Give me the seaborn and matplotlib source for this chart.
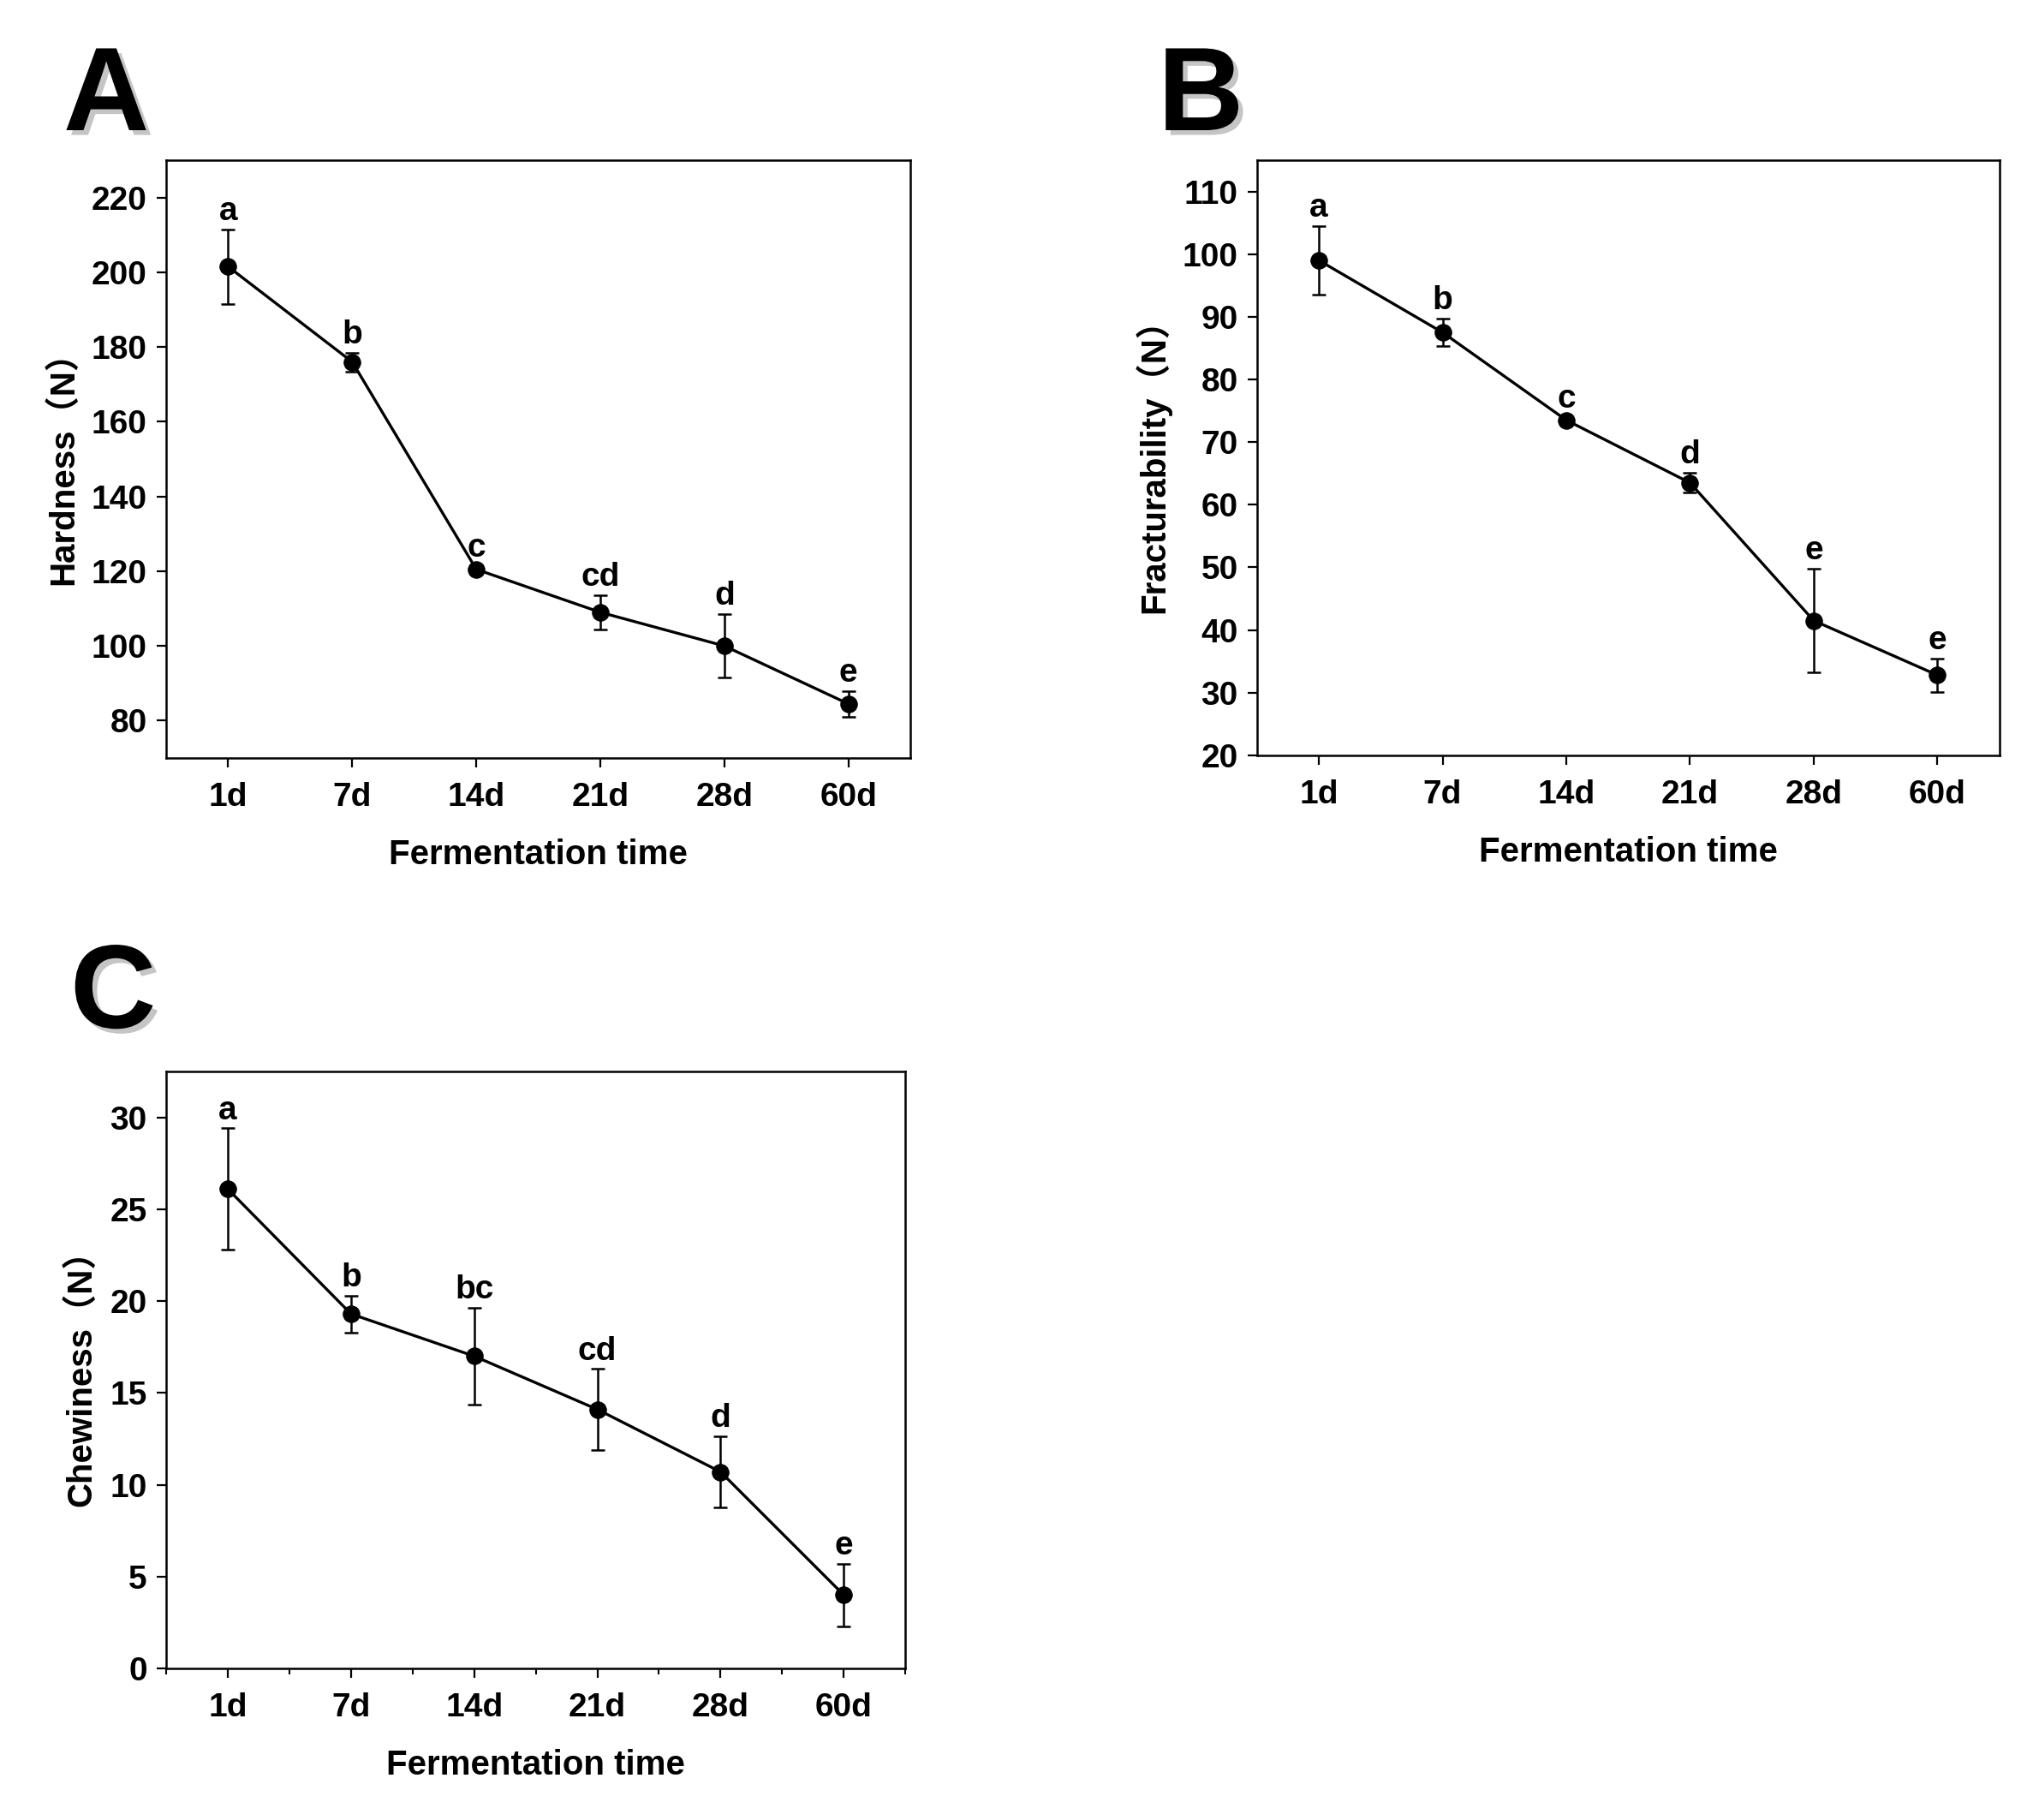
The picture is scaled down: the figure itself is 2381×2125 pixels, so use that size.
import numpy as np
import pandas as pd
import matplotlib
matplotlib.use("Agg")
import matplotlib.pyplot as plt
import matplotlib.patheffects as pe
import seaborn as sns

days = ["1d", "7d", "14d", "21d", "28d", "60d"]

hardness = [201.5, 176.0, 120.5, 109.0, 100.0, 84.5]
hardness_err = [10.0, 2.5, 1.0, 4.5, 8.5, 3.5]
hardness_sig = ["a", "b", "c", "cd", "d", "e"]

fractur = [99.0, 87.5, 73.5, 63.5, 41.5, 32.8]
fractur_err = [5.5, 2.2, 0.5, 1.6, 8.3, 2.7]
fractur_sig = ["a", "b", "c", "d", "e", "e"]

chew = [26.1, 19.3, 17.0, 14.1, 10.7, 4.0]
chew_err = [3.3, 1.0, 2.65, 2.2, 1.95, 1.7]
chew_sig = ["a", "b", "bc", "cd", "d", "e"]

sns.set_theme(style="ticks")
plt.rcParams["font.family"] = ["Liberation Sans", "Noto Sans CJK SC", "DejaVu Sans"]
plt.rcParams["font.weight"] = "bold"
plt.rcParams["axes.labelweight"] = "bold"
plt.rcParams["text.color"] = "black"
plt.rcParams["axes.labelcolor"] = "black"
plt.rcParams["xtick.color"] = "black"
plt.rcParams["ytick.color"] = "black"

fig = plt.figure(figsize=(23.81, 21.25), dpi=100)

panels = [
    dict(rect=[0.0815, 0.5835, 0.365, 0.3285], y=hardness, e=hardness_err, s=hardness_sig,
         ylab="Hardness（N）", ylim=(70, 230), yticks=np.arange(80, 221, 20), letter="A",
         lpos=(74, 152), minor=False),
    dict(rect=[0.6165, 0.585, 0.364, 0.327], y=fractur, e=fractur_err, s=fractur_sig,
         ylab="Fracturability（N）", ylim=(20, 115), yticks=np.arange(20, 111, 10), letter="B",
         lpos=(1352, 152), minor=False),
    dict(rect=[0.0815, 0.0833, 0.3625, 0.328], y=chew, e=chew_err, s=chew_sig,
         ylab="Chewiness（N）", ylim=(0, 32.5), yticks=np.arange(0, 31, 5), letter="C",
         lpos=(82, 1200), minor=True),
]

W, H = 2381, 2125
for p in panels:
    ax = fig.add_axes(p["rect"])
    df = pd.DataFrame({"day": days, "val": p["y"], "err": p["e"]})
    df["pos"] = np.arange(len(days))
    ax.errorbar(df["pos"], df["val"], yerr=df["err"], fmt="none", ecolor="black",
                elinewidth=1.8, capsize=6, capthick=1.8, zorder=2)
    sns.lineplot(data=df, x="pos", y="val", ax=ax, color="black", linewidth=2.4,
                 marker="o", markersize=14, markeredgecolor="black", markerfacecolor="black",
                 zorder=3)
    for xi, yi, ei, si in zip(df["pos"], df["val"], df["err"], p["s"]):
        ax.annotate(si, (xi, yi + ei), xytext=(0, 2), textcoords="offset points",
                    ha="center", va="bottom", fontsize=28, fontweight="bold",
                    family=["Liberation Sans", "DejaVu Sans"])
    ax.set_xlim(-0.5, 5.5)
    ax.set_ylim(*p["ylim"])
    ax.set_xticks(np.arange(len(days)))
    ax.set_xticklabels(days)
    ax.set_yticks(p["yticks"])
    if p["minor"]:
        ax.set_xticks(np.arange(-0.5, 5.6, 1), minor=True)
        ax.tick_params(axis="x", which="minor", length=5, width=1.5, direction="out")
    ax.tick_params(axis="both", which="major", length=8, width=1.6, direction="out",
                   labelsize=28, pad=8)
    ax.tick_params(axis="x", which="major", pad=12)
    for lab in ax.get_xticklabels() + ax.get_yticklabels():
        lab.set_fontweight("bold")
    ax.set_xlabel("Fermentation time", fontsize=29, fontweight="bold", labelpad=22)
    ax.set_ylabel(p["ylab"], fontsize=29, fontweight="bold", labelpad=10,
                  family=["Liberation Sans", "Noto Sans CJK SC"])
    for sp in ax.spines.values():
        sp.set_visible(True)
        sp.set_linewidth(1.8)
        sp.set_color("black")
    lx, ly = p["lpos"]
    fig.text(lx / W, 1 - ly / H, p["letter"], fontsize=100, fontweight="black",
             color="black", ha="left", va="baseline",
             family=["Liberation Sans", "DejaVu Sans"],
             path_effects=[pe.withSimplePatchShadow(offset=(4, -4), shadow_rgbFace="gray", alpha=0.45)])

fig.savefig("out.png", dpi=100, facecolor="white")
